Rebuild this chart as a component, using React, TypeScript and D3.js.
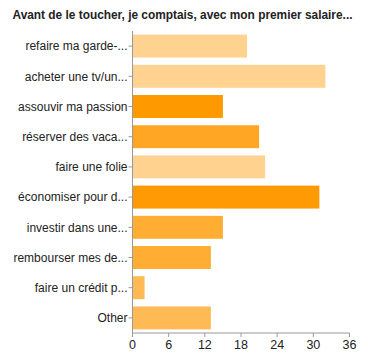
import React from "react";
import * as d3 from "d3";

const title = "Avant de le toucher, je comptais, avec mon premier salaire...";
const categories = [
  "refaire ma garde-...",
  "acheter une tv/un...",
  "assouvir ma passion",
  "réserver des vaca...",
  "faire une folie",
  "économiser pour d...",
  "investir dans une...",
  "rembourser mes de...",
  "faire un crédit p...",
  "Other",
];
const values = [19, 32, 15, 21, 22, 31, 15, 13, 2, 13];
const colors = [
  "#ffd38f", "#ffd38f", "#ff9900", "#ffa724", "#ffd38f",
  "#ff9a05", "#ffad33", "#ffad33", "#ffb955", "#ffb955",
];
const ticks = [0, 6, 12, 18, 24, 30, 36];

export default function App() {
  const W = 368, H = 361;
  const x = d3.scaleLinear().domain([0, 36]).range([132.5, 349.5]);
  const y = d3.scaleBand<string>().domain(categories).range([31, 333]).paddingInner(0.24).paddingOuter(0.12);
  const font = "Liberation Sans, Arial, sans-serif";
  return (
    <svg width={W} height={H} style={{ position: "absolute", left: 0, top: 0 }} fontFamily={font}>
      <rect width={W} height={H} fill="#fff" />
      <text x={12.5} y={19} fontSize={12} fontWeight="bold" fill="#222" textLength={340} lengthAdjust="spacingAndGlyphs">{title}</text>
      {categories.map((c, i) => (
        <g key={c}>
          <rect x={x(0)} y={y(c)!} width={x(values[i]) - x(0)} height={y.bandwidth()} fill={colors[i]} />
          <line x1={x(0) - 4} x2={x(0)} y1={y(c)! + y.bandwidth() / 2} y2={y(c)! + y.bandwidth() / 2} stroke="#999" />
          <text x={x(0) - 5} y={y(c)! + y.bandwidth() / 2} dy="0.35em" textAnchor="end" fontSize={12} fill="#222">{c}</text>
        </g>
      ))}
      <line x1={x(0)} x2={x(0)} y1={31} y2={333} stroke="#999" />
      <line x1={x(0)} x2={x(36)} y1={333} y2={333} stroke="#999" />
      {ticks.map((t) => (
        <g key={t}>
          <line x1={x(t)} x2={x(t)} y1={333} y2={337} stroke="#999" />
          <text x={x(t)} y={349} textAnchor="middle" fontSize={12.5} fill="#222">{t}</text>
        </g>
      ))}
    </svg>
  );
}
